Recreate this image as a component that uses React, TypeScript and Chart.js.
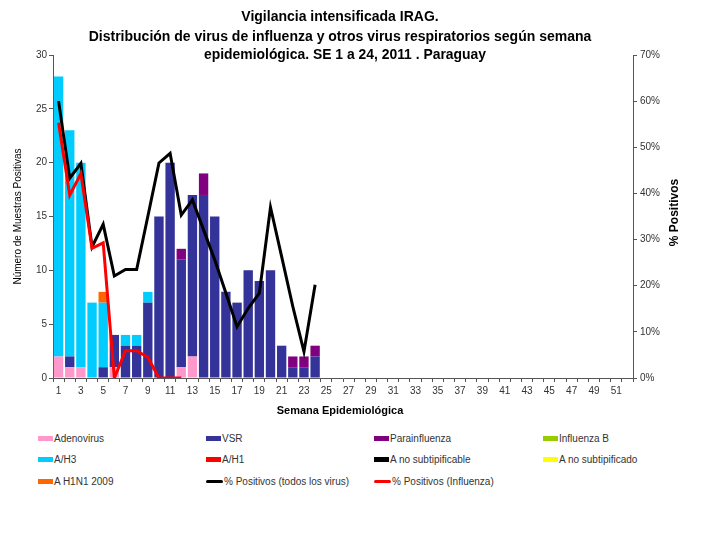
import React, { useEffect, useRef } from 'react';
import { Chart, registerables } from 'chart.js';

Chart.register(...registerables);

const FONT = '"Liberation Sans", Arial, sans-serif';

// epidemiological weeks (x axis categories)
const weeks = [
  '1', '2', '3', '4', '5', '6', '7', '8', '9', '10', '11', '12', '13',
  '14', '15', '16', '17', '18', '19', '20', '21', '22', '23', '24', '25', '26',
  '27', '28', '29', '30', '31', '32', '33', '34', '35', '36', '37', '38', '39',
  '40', '41', '42', '43', '44', '45', '46', '47', '48', '49', '50', '51', '52',
];

// positive samples per week, weeks 1..24
const adenovirus = [2, 1, 1, 0, 0, 1, 0, 0, 0, 0, 0, 1, 2, 0, 0, 0, 0, 0, 0, 0, 0, 0, 0, 0];
const vsr = [0, 1, 0, 0, 1, 3, 3, 3, 7, 15, 20, 10, 15, 17, 15, 8, 7, 10, 9, 10, 3, 1, 1, 2];
const parainfluenza = [0, 0, 0, 0, 0, 0, 0, 0, 0, 0, 0, 1, 0, 2, 0, 0, 0, 0, 0, 0, 0, 1, 1, 1];
const influenzaB: number[] = [];
const aH3 = [26, 21, 19, 7, 6, 0, 1, 1, 1, 0, 0, 0, 0, 0, 0, 0, 0, 0, 0, 0, 0, 0, 0, 0];
const aH1: number[] = [];
const aNoSubtipificable: number[] = [];
const aNoSubtipificado: number[] = [];
const aH1N12009 = [0, 0, 0, 0, 1, 0, 0, 0, 0, 0, 0, 0, 0, 0, 0, 0, 0, 0, 0, 0, 0, 0, 0, 0];

// % positives (right axis)
const pctTodos = [60, 43.3, 46.5, 28.4, 33.3, 22.1, 23.5, 23.5, 35, 46.6, 48.7, 35.3, 38.6, 32.1, 25.6, 18.4, 11.1, 15.1, 18.4, 37, 26.3, 15.5, 5.7, 20.2];
const pctInfluenza = [55.3, 39.6, 44.3, 28.1, 29.3, 0, 5.9, 5.9, 4.5, 0, 0, 0];

const barSeries = [
  { label: 'Adenovirus', data: adenovirus, color: '#FF99CC' },
  { label: 'VSR', data: vsr, color: '#333399' },
  { label: 'Parainfluenza', data: parainfluenza, color: '#800080' },
  { label: 'Influenza  B', data: influenzaB, color: '#99CC00' },
  { label: 'A/H3', data: aH3, color: '#00CCFF' },
  { label: 'A/H1', data: aH1, color: '#FF0000' },
  { label: 'A no subtipificable', data: aNoSubtipificable, color: '#000000' },
  { label: 'A no subtipificado', data: aNoSubtipificado, color: '#FFFF00' },
  { label: 'A H1N1 2009', data: aH1N12009, color: '#FF6600' },
];

const lineSeries = [
  { label: '% Positivos (todos los virus)', data: pctTodos, color: '#000000' },
  { label: '% Positivos (Influenza)', data: pctInfluenza, color: '#FF0000' },
];

// legend order as in the original (4 columns)
const legendOrder = [
  'Adenovirus', 'VSR', 'Parainfluenza', 'Influenza  B',
  'A/H3', 'A/H1', 'A no subtipificable', 'A no subtipificado',
  'A H1N1 2009', '% Positivos (todos los virus)', '% Positivos (Influenza)',
];

const titleLines = [
  'Vigilancia intensificada IRAG.',
  'Distribución de virus de influenza y otros virus respiratorios según semana',
  'epidemiológica. SE 1 a 24, 2011 . Paraguay',
];

const textPlugin = {
  id: 'textPlugin',
  afterDraw(chart: Chart) {
    const ctx = chart.ctx;
    const area = chart.chartArea;
    ctx.save();
    ctx.fillStyle = '#000';
    ctx.textAlign = 'center';
    ctx.textBaseline = 'middle';

    ctx.font = `bold 14px ${FONT}`;
    ctx.fillText(titleLines[0], 340, 17, 212);
    ctx.fillText(titleLines[1], 340, 37, 512);
    ctx.fillText(titleLines[2], 345, 55, 282);

    ctx.font = `bold 11px ${FONT}`;
    ctx.fillText('Semana Epidemiológica', 340, 411);

    const midY = (area.top + area.bottom) / 2;
    ctx.save();
    ctx.translate(18, midY);
    ctx.rotate(-Math.PI / 2);
    ctx.font = `10px ${FONT}`;
    ctx.fillText('Número de Muestras Positivas', 0, 0);
    ctx.restore();

    ctx.save();
    ctx.translate(675, midY - 4);
    ctx.rotate(-Math.PI / 2);
    ctx.font = `bold 12px ${FONT}`;
    ctx.fillText('% Positivos', 0, 0);
    ctx.restore();

    ctx.restore();
  },
};

const App: React.FC = () => {
  const chartRef = useRef<HTMLCanvasElement>(null);
  const chartInstance = useRef<Chart | null>(null);

  useEffect(() => {
    document.body.style.margin = '0';
    if (chartInstance.current) {
      chartInstance.current.destroy();
    }
    if (!chartRef.current) return;
    const ctx = chartRef.current.getContext('2d');
    if (!ctx) return;

    const axisColor = '#555555';
    const tickFont = { family: FONT, size: 10 };

    chartInstance.current = new Chart(ctx, {
      type: 'bar',
      data: {
        labels: weeks,
        datasets: [
          ...lineSeries.map((s, i) => ({
            type: 'line' as const,
            label: s.label,
            data: s.data,
            borderColor: s.color,
            backgroundColor: s.color,
            borderWidth: 3,
            pointRadius: 0,
            tension: 0,
            yAxisID: 'y1',
            order: 1 - i,
          })),
          ...barSeries.map((s) => ({
            type: 'bar' as const,
            label: s.label,
            data: s.data,
            backgroundColor: s.color,
            borderWidth: 0,
            categoryPercentage: 1,
            barPercentage: 0.84,
            yAxisID: 'y',
            order: 2,
          })),
        ],
      },
      options: {
        responsive: false,
        animation: false,
        layout: { padding: { top: 55, left: 0, right: 0, bottom: 0 } },
        plugins: {
          legend: { display: false },
          title: { display: false },
          tooltip: { enabled: false },
        },
        scales: {
          x: {
            stacked: true,
            offset: true,
            grid: {
              offset: true,
              drawOnChartArea: false,
              drawTicks: true,
              tickLength: 4,
              color: axisColor,
            },
            border: { display: true, color: axisColor },
            ticks: {
              autoSkip: false,
              maxRotation: 0,
              minRotation: 0,
              padding: 3,
              color: '#333',
              font: tickFont,
              callback: (_v, i) => (i % 2 === 0 ? weeks[i] : ''),
            },
            afterFit: (scale) => {
              scale.height = 47;
            },
          },
          y: {
            stacked: true,
            position: 'left',
            min: 0,
            max: 30,
            ticks: { stepSize: 5, padding: 2, color: '#333', font: tickFont },
            grid: {
              drawOnChartArea: false,
              drawTicks: true,
              tickLength: 4,
              color: axisColor,
            },
            border: { display: true, color: axisColor },
            afterFit: (scale) => {
              scale.width = 53;
            },
          },
          y1: {
            stacked: false,
            position: 'right',
            min: 0,
            max: 70,
            ticks: {
              stepSize: 10,
              padding: 3,
              color: '#333',
              font: tickFont,
              callback: (v) => `${v}%`,
            },
            grid: {
              drawOnChartArea: false,
              drawTicks: true,
              tickLength: 4,
              color: axisColor,
            },
            border: { display: true, color: axisColor },
            afterFit: (scale) => {
              scale.width = 71;
            },
          },
        },
      },
      plugins: [textPlugin],
    });

    return () => {
      if (chartInstance.current) {
        chartInstance.current.destroy();
        chartInstance.current = null;
      }
    };
  }, []);

  const colX = [38, 206, 374, 543];
  const rowY = [438, 459, 481];
  const allSeries = [...barSeries, ...lineSeries];

  return (
    <div style={{ position: 'relative', width: 704, height: 535, background: '#fff', overflow: 'hidden' }}>
      <canvas ref={chartRef} width={704} height={425} style={{ display: 'block' }} />
      {legendOrder.map((name, i) => {
        const s = allSeries.find((x) => x.label === name)!;
        const isLine = lineSeries.some((x) => x.label === name);
        return (
          <div
            key={name}
            style={{
              position: 'absolute',
              left: colX[i % 4],
              top: rowY[Math.floor(i / 4)] - 7,
              height: 14,
              display: 'flex',
              alignItems: 'center',
              fontFamily: FONT,
              fontSize: 10,
              color: '#333',
              whiteSpace: 'nowrap',
            }}
          >
            <span
              style={{
                display: 'inline-block',
                width: isLine ? 17 : 15,
                height: isLine ? 3 : 5,
                borderRadius: isLine ? 2 : 0,
                background: s.color,
                marginRight: 1,
              }}
            />
            {name}
          </div>
        );
      })}
    </div>
  );
};

export default App;
